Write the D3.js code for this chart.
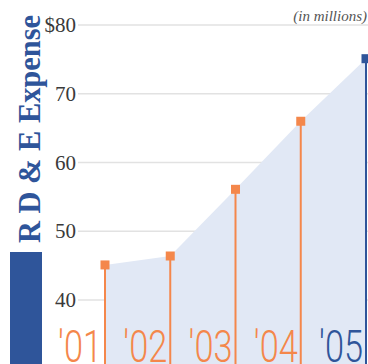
<!DOCTYPE html>
<html>
<head>
<meta charset="utf-8">
<script src="https://cdn.jsdelivr.net/npm/d3@7"></script>
<style>
  html, body { margin: 0; padding: 0; background: #fff; }
  svg { display: block; }
</style>
</head>
<body>
<div id="chart"></div>
<script>
// data
const years = ["'01", "'02", "'03", "'04", "'05"];
const expense = [45.1, 46.4, 56.1, 66.0, 75.1];
const yTicks = [40, 50, 60, 70, 80];

const width = 368;
const height = 364;
const orange = "#f4874b";
const blue = "#2f559a";

const svg = d3.select("#chart")
  .append("svg")
  .attr("width", width)
  .attr("height", height);

const x = d3.scalePoint(years, [105, 366]);
const y = d3.scaleLinear([40, 80], [300, 25]);

// grid lines
svg.append("g")
  .selectAll("line")
  .data(yTicks)
  .join("line")
  .attr("x1", 78)
  .attr("x2", width)
  .attr("y1", (d) => y(d))
  .attr("y2", (d) => y(d))
  .attr("stroke", "#e2e2e2")
  .attr("stroke-width", 1.5);

// tick labels
svg.append("g")
  .selectAll("text")
  .data(yTicks)
  .join("text")
  .attr("x", 76)
  .attr("y", (d) => y(d) + 7)
  .attr("text-anchor", "end")
  .attr("font-family", "Liberation Serif, serif")
  .attr("font-size", 21)
  .attr("fill", "#3a3a3a")
  .text((d) => (d === 80 ? "$" + d : d));

// area
const area = d3.area()
  .x((d, i) => x(years[i]))
  .y0(height)
  .y1((d) => y(d));

svg.append("path")
  .datum(expense)
  .attr("d", area)
  .attr("fill", "#e1e8f5");

// stems
svg.append("g")
  .selectAll("line")
  .data(expense)
  .join("line")
  .attr("x1", (d, i) => x(years[i]))
  .attr("x2", (d, i) => x(years[i]))
  .attr("y1", (d) => y(d))
  .attr("y2", height)
  .attr("stroke", (d, i) => (i === years.length - 1 ? blue : orange))
  .attr("stroke-width", 2);

// markers
svg.append("g")
  .selectAll("rect")
  .data(expense)
  .join("rect")
  .attr("x", (d, i) => x(years[i]) - 4.5)
  .attr("y", (d) => y(d) - 4.5)
  .attr("width", 9)
  .attr("height", 9)
  .attr("fill", (d, i) => (i === years.length - 1 ? blue : orange));

// year labels
svg.append("g")
  .selectAll("text")
  .data(years)
  .join("text")
  .attr("transform", (d) => `translate(${x(d) - 3},362) scale(0.78,1)`)
  .attr("text-anchor", "end")
  .attr("font-family", "Roboto, sans-serif")
  .attr("font-weight", 300)
  .attr("font-size", 44)
  .attr("fill", (d, i) => (i === years.length - 1 ? blue : orange))
  .text((d) => d);

// y title
svg.append("text")
  .attr("transform", "translate(40,243) rotate(-90)")
  .attr("font-family", "Liberation Serif, serif")
  .attr("font-weight", "bold")
  .attr("font-size", 31)
  .attr("fill", blue)
  .attr("textLength", 228)
  .attr("lengthAdjust", "spacingAndGlyphs")
  .text("R D & E Expense");

svg.append("rect")
  .attr("x", 10)
  .attr("y", 252)
  .attr("width", 32)
  .attr("height", height - 252)
  .attr("fill", blue);

// units note
svg.append("text")
  .attr("x", 367)
  .attr("y", 21)
  .attr("text-anchor", "end")
  .attr("font-family", "Liberation Serif, serif")
  .attr("font-style", "italic")
  .attr("font-size", 15)
  .attr("fill", "#555")
  .text("(in millions)");
</script>
</body>
</html>
